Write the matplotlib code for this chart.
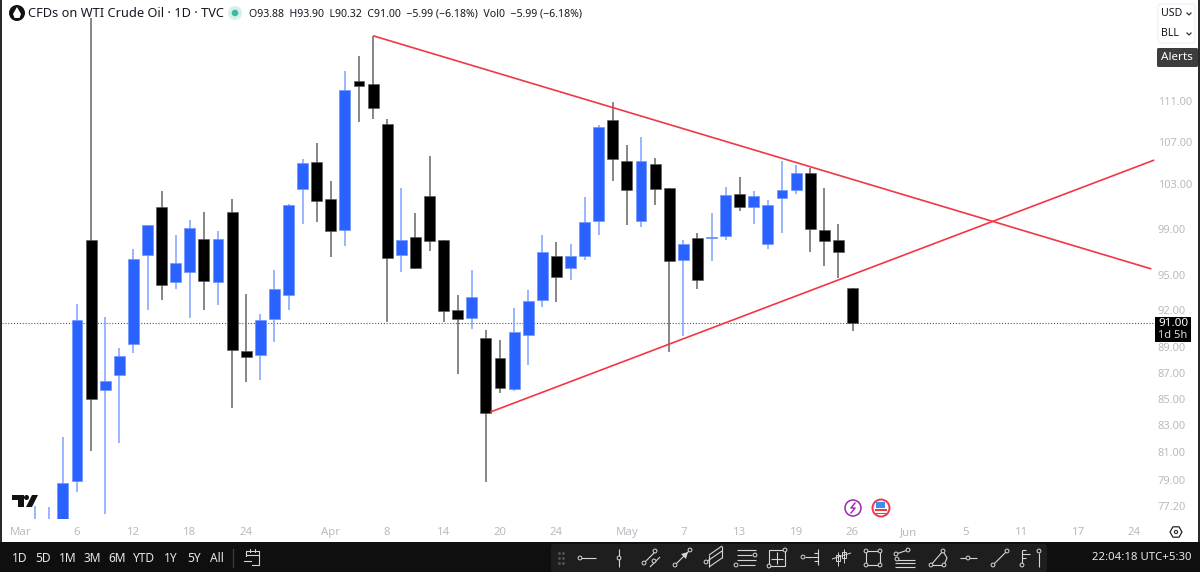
"""CFDs on WTI Crude Oil daily candles, TradingView style."""

import matplotlib

matplotlib.use("Agg")
import matplotlib.pyplot as plt
import numpy as np
from matplotlib.patches import Circle, FancyBboxPatch, Polygon, Rectangle

plt.rcParams["font.family"] = ["Noto Sans", "DejaVu Sans"]

# bar index, 0 is the 6 March session
bar_index = list(range(-3, 56))
opens = [74.6, 75.2, 75.5, 78.94, 97.99, 85.68, 86.82, 89.30, 96.67, 100.94, 94.38, 95.23,
         98.08, 94.38, 100.49, 88.69, 88.38, 91.29, 93.27, 102.58, 105.10, 101.65, 98.89, 113.04,
         112.73, 108.75, 96.70, 98.26, 101.96, 97.99, 92.03, 91.40, 89.71, 88.15, 85.74, 89.95,
         92.84, 96.59, 95.57, 96.59, 99.68, 109.14, 105.19, 99.68, 104.91, 102.67, 96.25, 98.20,
         98.17, 98.35, 102.14, 100.96, 97.64, 101.75, 102.51, 104.10, 98.91, 97.99, 93.88]
highs = [77.18, 77.11, 82.12, 92.54, 119.62, 91.45, 88.93, 97.19, 99.33, 102.42, 98.44, 99.78,
         100.49, 98.80, 101.68, 93.35, 91.70, 95.40, 101.23, 105.38, 106.89, 103.32, 114.06, 115.60,
         117.70, 109.24, 102.67, 100.43, 105.66, 98.00, 93.27, 95.43, 90.35, 89.57, 92.19, 93.69,
         98.44, 97.81, 97.64, 101.84, 108.66, 110.90, 106.70, 107.48, 105.47, 102.70, 97.99, 98.62,
         100.40, 102.77, 103.70, 102.39, 101.56, 105.19, 104.82, 104.54, 102.67, 99.42, 93.90]
lows = [74.0, 74.8, 75.0, 78.16, 81.08, 76.64, 81.67, 88.54, 92.03, 92.87, 93.78, 91.37,
        92.05, 92.43, 84.27, 86.28, 86.43, 89.46, 92.03, 99.42, 99.60, 96.50, 97.46, 108.95,
        109.24, 91.05, 95.23, 95.51, 97.01, 91.05, 86.90, 90.51, 78.87, 85.42, 85.57, 87.60,
        92.27, 92.68, 94.58, 96.25, 98.44, 103.35, 99.33, 99.15, 101.11, 88.61, 89.87, 93.78,
        96.16, 97.99, 100.58, 99.42, 97.19, 98.62, 102.12, 96.93, 95.74, 94.72, 90.32]
closes = [75.6, 75.9, 78.80, 91.21, 84.95, 86.36, 88.30, 96.33, 99.29, 94.12, 95.99, 99.06,
          94.49, 98.08, 88.77, 88.26, 91.21, 93.78, 101.14, 104.96, 101.50, 98.82, 112.12, 112.56,
          110.32, 96.42, 97.99, 95.57, 97.93, 91.97, 91.29, 93.12, 83.90, 85.81, 90.19, 92.78,
          96.96, 94.83, 96.59, 99.60, 108.49, 105.38, 102.49, 105.19, 102.61, 96.16, 97.64, 94.58,
          98.26, 102.03, 100.94, 101.96, 101.11, 102.49, 104.07, 99.00, 97.93, 96.93, 91.00]

upper_trend_x = [21, 76.2]
upper_trend_y = [117.70, 95.48]
lower_trend_x = [29.3, 76.4]
lower_trend_y = [83.97, 105.28]

last_price = 91.00

price_ticks = [111, 107, 103, 99, 95, 92, 89, 87, 85, 83, 81, 79, 77.2]
date_ticks = [-4, 0, 4, 8, 12, 18, 22, 26, 30, 34, 39, 43, 47, 51, 55, 59, 63, 67, 71, 75]
date_labels = ["Mar", "6", "12", "18", "24", "Apr", "8", "14", "20", "24", "May", "7", "13", "19",
               "26", "Jun", "5", "11", "17", "24"]
month_labels = ["Mar", "Apr", "May", "Jun"]

range_buttons = ["1D", "5D", "1M", "3M", "6M", "YTD", "1Y", "5Y", "All"]
range_centers = [20, 43, 68, 92, 117, 144, 171, 194, 217]

BLUE = "#2962ff"
BLACK = "#000000"
GREY = "#b8bbc2"
TOOL = "#d6d6d6"

fig = plt.figure(figsize=(12, 5.72), dpi=100, facecolor="white")

# price pane, 2..1155 px across and 0..519 px down
ax = fig.add_axes([2 / 1200, 1 - 519 / 572, 1153 / 1200, 519 / 572])
ax.set_yscale("log")
ax.set_xlim((2 - 77) / 14.1, (1155 - 77) / 14.1)
ax.set_ylim(76.29, 121.54)
for side in ax.spines.values():
    side.set_visible(False)

o = np.array(opens)
h = np.array(highs)
l = np.array(lows)
c = np.array(closes)
xs = np.array(bar_index)
up = c >= o

ax.axhline(last_price, color="#555555", lw=0.8, ls=(0, (1, 1.6)), zorder=1)
ax.vlines(xs[up], l[up], h[up], color="#7fa0ff", lw=1.1, zorder=2)
ax.vlines(xs[~up], l[~up], h[~up], color="#666666", lw=1.1, zorder=2)
ax.bar(xs[up], (c - o)[up], bottom=o[up], width=0.78, color=BLUE, edgecolor="#6f95ff", lw=0.5, zorder=3)
ax.bar(xs[~up], (o - c)[~up], bottom=c[~up], width=0.78, color=BLACK, edgecolor="#555555", lw=0.4, zorder=3)

ax.plot(upper_trend_x, upper_trend_y, color="#f23645", lw=1.2, zorder=4, solid_capstyle="butt")
ax.plot(lower_trend_x, lower_trend_y, color="#f23645", lw=1.2, zorder=4, solid_capstyle="butt")

ax.yaxis.tick_right()
ax.minorticks_off()
ax.set_yticks(price_ticks)
ax.set_yticklabels([f"{p:.2f}" for p in price_ticks], fontsize=8, color=GREY)
ax.yaxis.set_minor_formatter(matplotlib.ticker.NullFormatter())
ax.tick_params(axis="y", which="both", length=0, pad=2)
ax.set_xticks(date_ticks)
ax.set_xticklabels(date_labels, fontsize=8.2, color=GREY)
ax.tick_params(axis="x", length=0, pad=6)
for tick in ax.get_xticklabels():
    if tick.get_text() in month_labels:
        tick.set_fontweight("bold")

# everything around the chart, in screen pixels
ui = fig.add_axes([0, 0, 1, 1], zorder=5)
ui.set_xlim(0, 1200)
ui.set_ylim(572, 0)
ui.axis("off")
ui.patch.set_alpha(0)

ui.add_patch(Rectangle((0, 0), 2, 572, color="#2a2a2a", lw=0))
ui.add_patch(Rectangle((1198, 0), 2, 572, color="#2a2a2a", lw=0))
ui.add_patch(Rectangle((0, 541.5), 1200, 30.5, color="#0f0f0f", lw=0))

# header
ui.add_patch(Circle((17, 13), 8, color="#111111", lw=0))
ui.add_patch(Polygon([(17, 7), (21, 14), (19.5, 18), (14.5, 18), (13, 14)], color="white", lw=0))
ui.text(28, 13.5, "CFDs on WTI Crude Oil · 1D · TVC", fontsize=9.2, color="#131722", va="center")
ui.add_patch(Circle((235, 13), 7, color="#d5efea", lw=0))
ui.add_patch(Circle((235, 13), 3.3, color="#3dbb9f", lw=0))
ui.text(249, 13.5, "O93.88  H93.90  L90.32  C91.00  −5.99 (−6.18%)  Vol0  −5.99 (−6.18%)",
        fontsize=7.6, color="#131722", va="center")

# TradingView mark
ui.add_patch(Polygon([(12, 495), (24, 495), (24, 507), (18, 507), (18, 500), (12, 500)], color="#111111", lw=0))
ui.add_patch(Circle((26.5, 497.5), 2.5, color="#111111", lw=0))
ui.add_patch(Polygon([(32, 495), (38, 495), (32, 507), (26, 507)], color="#111111", lw=0))

# currency and unit buttons
ui.add_patch(FancyBboxPatch((1158, 4), 37, 39, boxstyle="round,pad=0,rounding_size=3", fc="white", ec="#eeeeee", lw=0.8))
for label, y in [("USD", 14), ("BLL", 34)]:
    ui.text(1161, y, label, fontsize=7.6, color="#131722", va="center")
    ui.plot([1187, 1189, 1191], [y - 1, y + 1, y - 1], color="#333333", lw=0.9)

ui.add_patch(FancyBboxPatch((1157, 48), 41, 19, boxstyle="round,pad=0,rounding_size=1.5", fc="#3d3d3d", ec="none"))
ui.text(1177, 57.5, "Alerts", fontsize=8.4, color="white", ha="center", va="center")

# last price flag
ui.add_patch(Rectangle((1155, 317), 36, 25, color="black", lw=0))
ui.text(1173, 323.5, f"{last_price:.2f}", fontsize=8.4, color="white", fontweight="bold", ha="center", va="center")
ui.text(1173, 336, "1d 5h", fontsize=8, color="#d8d8d8", ha="center", va="center")

# event badges
ui.add_patch(Circle((853, 508), 8, fc="white", ec="#9c27b0", lw=1.1))
ui.plot([855, 851, 855, 851], [503, 508, 508, 513], color="#9c27b0", lw=1)
ui.add_patch(Circle((881, 508), 8.5, fc="white", ec="#f23645", lw=1.4))
ui.add_patch(Rectangle((875, 509), 12, 1.6, color="#f23645", lw=0))
ui.add_patch(Rectangle((876, 512.5), 10, 1.4, color="#f23645", lw=0))
ui.add_patch(Rectangle((876, 501.5), 9, 6.5, color="#3d8ef0", lw=0))

# settings hexagon
hex_angles = np.deg2rad(np.arange(0, 360, 60))
ui.add_patch(Polygon(np.column_stack([1176 + 6 * np.cos(hex_angles), 532 + 6 * np.sin(hex_angles)]),
                     fc="white", ec="#222222", lw=0.9))
ui.add_patch(Circle((1176, 532), 1.6, fc="white", ec="#222222", lw=0.8))

# range buttons
for label, cx in zip(range_buttons, range_centers):
    ui.text(cx, 558, label, fontsize=8.6, color="#e8e8e8", ha="center", va="center")
ui.plot([233, 233], [549, 567], color="#3a3a3a", lw=1)
ui.plot([246, 246, 259, 259, 252], [556, 551, 551, 565, 565], color=TOOL, lw=0.8)
ui.plot([246, 259], [555, 555], color=TOOL, lw=0.8)
ui.plot([250, 250], [549, 552], color=TOOL, lw=0.7)
ui.plot([255, 255], [549, 552], color=TOOL, lw=0.7)
ui.plot([244, 251], [561, 561], color=TOOL, lw=0.8)
ui.text(1191, 558, "22:04:18 UTC+5:30", fontsize=8.2, color="#e8e8e8", ha="right", va="center")

# drawing tools panel
ui.add_patch(FancyBboxPatch((551, 544), 496, 28, boxstyle="round,pad=0,rounding_size=3", fc="#1e1e1e", ec="none"))
for gx in (559, 563):
    ui.plot([gx] * 3, [553, 558, 563], ls="none", marker="o", ms=1, color="#555555")


def seg(x0, y0, x1, y1, lw=0.8):
    ui.plot([x0, x1], [y0, y1], color=TOOL, lw=lw, solid_capstyle="butt")


def knob(x, y, r=1.9):
    ui.add_patch(Circle((x, y), r, fc="#1e1e1e", ec=TOOL, lw=0.7, zorder=6))


seg(580, 558, 596, 558)
knob(580, 558)
seg(619, 549, 619, 567)
knob(619, 558)
seg(644, 563, 655, 552)
seg(650, 567, 660, 557)
knob(644, 563)
knob(655, 551)
knob(654, 561)
seg(675, 565, 690, 550)
knob(675, 565)
knob(690, 550)
ui.add_patch(Polygon([(688, 552), (681, 554), (686, 559)], color=TOOL, lw=0))
seg(706, 562, 722, 551)
seg(709, 567, 722, 558)
seg(709, 555, 722, 546)
seg(722, 546, 722, 558)
seg(709, 555, 709, 567)
knob(706, 562)
seg(737, 550, 756, 550)
seg(737, 555, 752, 555)
knob(755, 555)
seg(737, 560, 756, 560)
seg(739, 565, 755, 565)
knob(736, 565)
ui.add_patch(Rectangle((769, 550), 16, 16, fc="none", ec=TOOL, lw=0.8))
seg(777, 552, 777, 564)
seg(771, 559, 783, 559)
knob(785, 550)
knob(769, 566)
seg(805, 557, 812, 557)
knob(803, 557)
seg(818, 549, 818, 565)
seg(814, 553, 818, 553)
seg(812, 557, 818, 557)
seg(814, 561, 818, 561)
seg(838, 552, 838, 566, lw=0.7)
ui.add_patch(Rectangle((836, 555), 3.5, 6, fc="#1e1e1e", ec=TOOL, lw=0.7))
seg(844, 549, 844, 563, lw=0.7)
ui.add_patch(Rectangle((842, 552), 3.5, 6, fc="#1e1e1e", ec=TOOL, lw=0.7))
seg(832, 559, 851, 553, lw=0.7)
ui.add_patch(Rectangle((866, 551), 14, 14, fc="none", ec=TOOL, lw=0.8))
for kx, ky in [(866, 551), (880, 551), (866, 565), (880, 565)]:
    knob(kx, ky)
seg(896, 554, 908, 550)
knob(896, 554)
knob(908, 550)
seg(896, 560, 915, 560)
seg(895, 563, 915, 563)
seg(895, 567, 915, 567)
knob(897, 559)
seg(931, 565, 943, 551)
seg(931, 565, 944, 565)
ui.plot([943, 947, 944], [551, 558, 565], color=TOOL, lw=0.8)
knob(931, 565)
knob(943, 551)
knob(944, 565)
seg(960, 558, 977, 558)
knob(968, 558)
seg(993, 565, 1007, 551)
knob(993, 565)
knob(1007, 551)
seg(1022, 550, 1022, 563)
seg(1022, 550, 1026, 550)
seg(1022, 554, 1030, 554)
seg(1022, 558, 1026, 558)
knob(1022, 565)
seg(1039, 553, 1039, 567)
knob(1039, 551)

fig.savefig("out.png", dpi=100, facecolor="white")
plt.close(fig)
